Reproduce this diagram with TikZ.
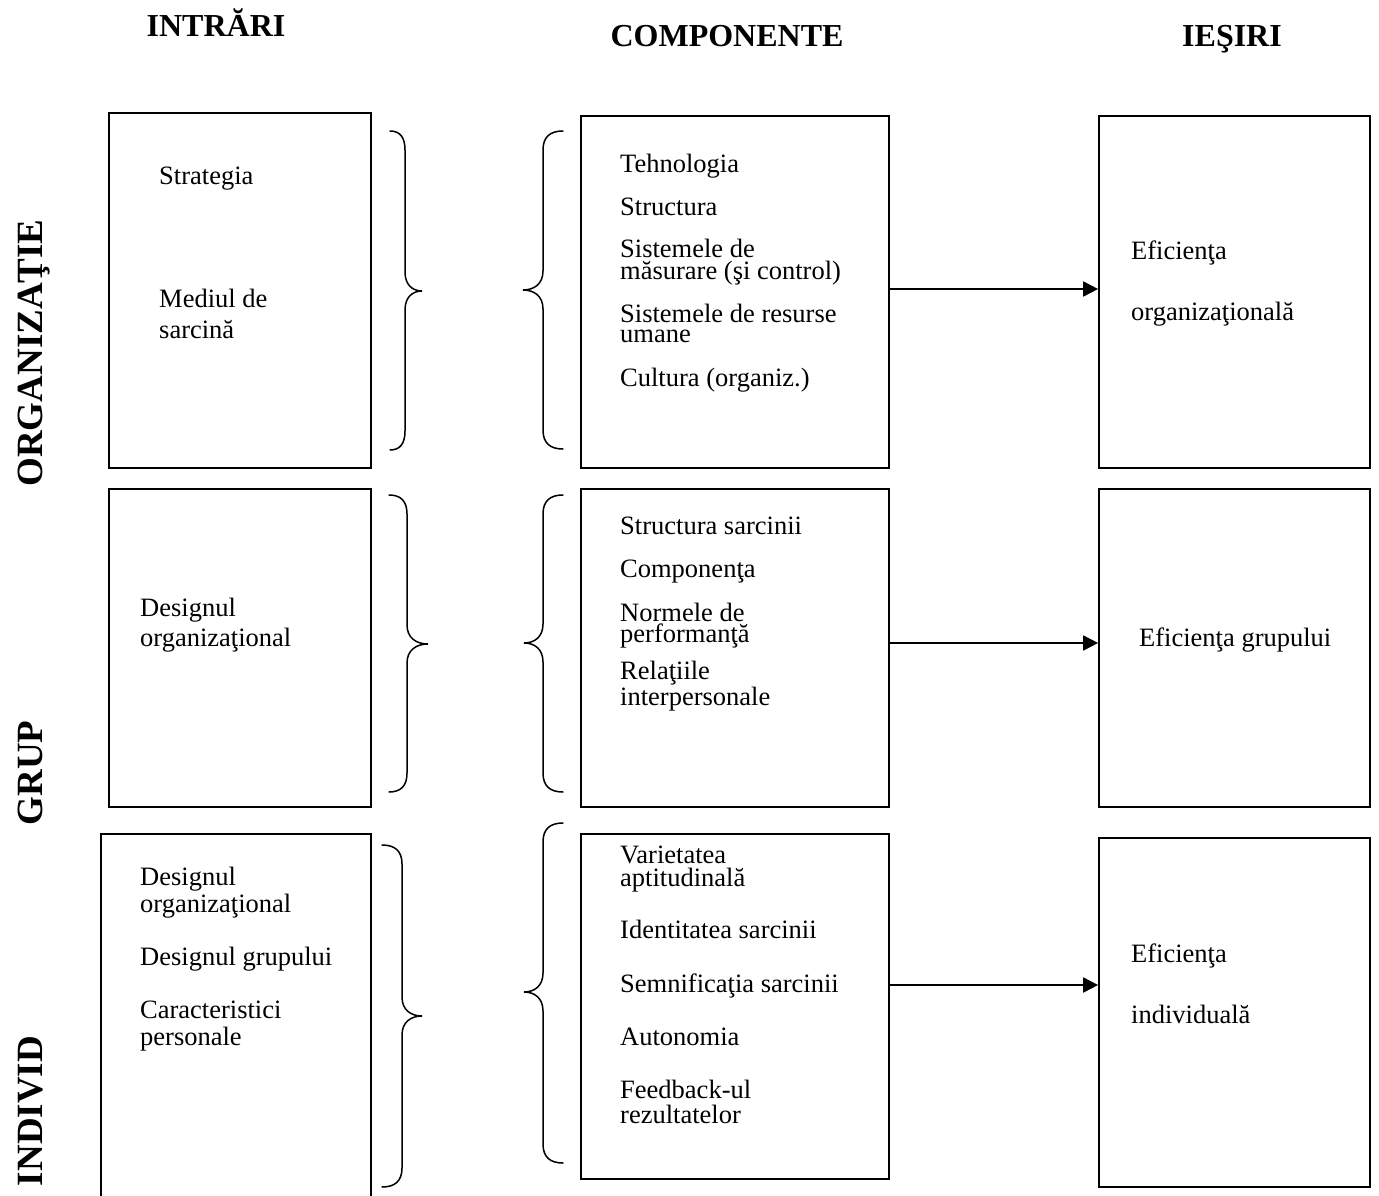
\documentclass[tikz,border=0pt]{standalone}
\usepackage{fontspec}
\setmainfont{Liberation Serif}
\usetikzlibrary{arrows.meta}

% curly brace: #1 end x, #2 stem x, #3 tip x, #4 top y, #5 middle y, #6 bottom y
\newcommand{\curlbrace}[6]{%
  \draw[bracestyle]
    (#1,#4) .. controls ({#1+0.65*(#2-#1)},#4) and (#2,{#4+6}) .. (#2,{#4+19})
    -- (#2,{#5-19})
    .. controls (#2,{#5-6}) and ({#2+0.45*(#3-#2)},#5) .. (#3,#5)
    .. controls ({#2+0.45*(#3-#2)},#5) and (#2,{#5+6}) .. (#2,{#5+19})
    -- (#2,{#6-19})
    .. controls (#2,{#6-6}) and ({#1+0.65*(#2-#1)},#6) .. (#1,#6);%
}

\begin{document}
\begin{tikzpicture}[x=1pt,y=-1pt,
  box/.style={draw, line width=1.7pt, inner sep=0pt},
  bracestyle/.style={line width=1.5pt, line cap=round},
  arr/.style={line width=1.8pt, -{Triangle[length=15pt,width=15pt]}},
  txt/.style={anchor=base west, inner sep=0pt, font=\fontsize{26.5}{26.5}\selectfont},
  % two-line items: placed by the baseline of their last line
  twoline/.style={anchor=base west, inner sep=0pt, align=left, font=\fontsize{26.5}{#1}\selectfont},
  head/.style={anchor=base, inner sep=0pt, font=\bfseries\fontsize{32}{32}\selectfont},
  rowlabel/.style={anchor=base, rotate=90, inner sep=0pt, font=\bfseries\fontsize{37}{37}\selectfont}]

\useasboundingbox (0,0) rectangle (1379,1196);

% column headings
\node[head] (hin)  at (216,37) {INTRĂRI};
\node[head] (hcomp) at (727,47) {COMPONENTE};
\node[head] (hout) at (1232,47) {IEŞIRI};

% row headings
\node[rowlabel] (lorg) at (42,353) {ORGANIZAŢIE};
\node[rowlabel] (lgrp) at (42,773) {GRUP};
\node[rowlabel] (lind) at (42,1111) {INDIVID};

% boxes: organisation level
\node[box, minimum width=262pt, minimum height=355pt] (A1) at (240,290.5) {};
\node[box, minimum width=308pt, minimum height=352pt] (B1) at (735,292) {};
\node[box, minimum width=271pt, minimum height=352pt] (C1) at (1234.5,292) {};
% boxes: group level
\node[box, minimum width=262pt, minimum height=318pt] (A2) at (240,648) {};
\node[box, minimum width=308pt, minimum height=318pt] (B2) at (735,648) {};
\node[box, minimum width=271pt, minimum height=318pt] (C2) at (1234.5,648) {};
% boxes: individual level
\node[box, minimum width=270pt, minimum height=381pt] (A3) at (236,1024.5) {};
\node[box, minimum width=308pt, minimum height=345pt] (B3) at (735,1006.5) {};
\node[box, minimum width=271pt, minimum height=349pt] (C3) at (1234.5,1012.5) {};

% braces between inputs and components
\curlbrace{390}{405}{422}{131}{291}{450}
\curlbrace{563}{543}{523}{131}{290}{449}
\curlbrace{389}{407}{428}{495}{644}{792}
\curlbrace{563}{543}{524}{495}{643}{792}
\curlbrace{382}{402}{422}{845}{1016}{1187}
\curlbrace{563}{543}{524}{823}{992}{1163}

% arrows from components to outputs
\coordinate (r1) at (0,289);
\coordinate (r2) at (0,643);
\coordinate (r3) at (0,985);
\draw[arr] (B1.east |- r1) -- (C1.west |- r1);
\draw[arr] (B2.east |- r2) -- (C2.west |- r2);
\draw[arr] (B3.east |- r3) -- (C3.west |- r3);

% texts: organisation
\node[txt] (a1a) at (159,184) {Strategia};
\node[twoline=31] (a1b) at (159,338) {Mediul de\\sarcină};

\node[txt] (b1a) at (620,172) {Tehnologia};
\node[txt] (b1b) at (620,215) {Structura};
\node[twoline=22] (b1c) at (620,279) {Sistemele de\\măsurare (şi control)};
\node[twoline=20] (b1e) at (620,342) {Sistemele de resurse\\umane};
\node[txt] (b1g) at (620,386) {Cultura (organiz.)};

\node[txt] (c1a) at (1131,259) {Eficienţa};
\node[txt] (c1b) at (1131,320) {organizaţională};

% texts: group
\node[twoline=30] (a2a) at (140,646) {Designul\\organizaţional};

\node[txt] (b2a) at (620,534) {Structura sarcinii};
\node[txt] (b2b) at (620,577) {Componenţa};
\node[twoline=21] (b2c) at (620,642) {Normele de\\performanţă};
\node[twoline=22] (b2e) at (620,705) {Relaţiile\\interpersonale};

\node[txt] (c2a) at (1139,646) {Eficienţa grupului};

% texts: individual
\node[twoline=27] (a3a) at (140,912) {Designul\\organizaţional};
\node[txt] (a3c) at (140,965) {Designul grupului};
\node[twoline=27] (a3d) at (140,1045) {Caracteristici\\personale};

\node[twoline=23] (b3a) at (620,886) {Varietatea\\aptitudinală};
\node[txt] (b3c) at (620,938) {Identitatea sarcinii};
\node[txt] (b3d) at (620,992) {Semnificaţia sarcinii};
\node[txt] (b3e) at (620,1045) {Autonomia};
\node[twoline=25] (b3f) at (620,1123) {Feedback-ul\\rezultatelor};

\node[txt] (c3a) at (1131,962) {Eficienţa};
\node[txt] (c3b) at (1131,1023) {individuală};

\end{tikzpicture}
\end{document}
